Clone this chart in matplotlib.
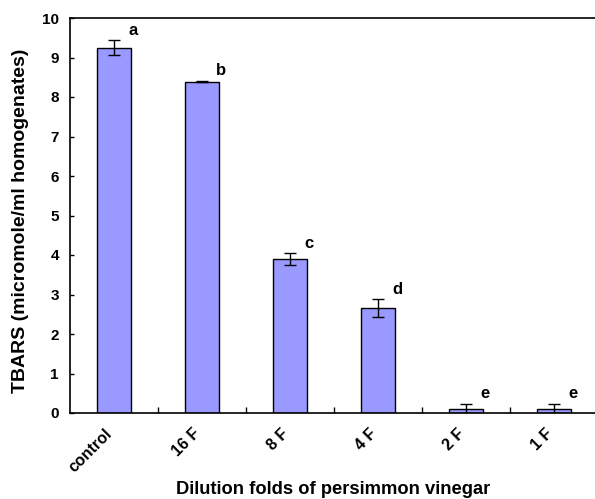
import matplotlib
matplotlib.use("Agg")
import matplotlib.pyplot as plt
import matplotlib.transforms as mtransforms
import numpy as np

categories = ["control", "16 F", "8 F", "4 F", "2 F", "1 F"]
values = [9.25, 8.39, 3.89, 2.66, 0.10, 0.09]
errors = [0.19, 0.02, 0.15, 0.22, 0.14, 0.14]
letters = ["a", "b", "c", "d", "e", "e"]
yticks = [0, 1, 2, 3, 4, 5, 6, 7, 8, 9, 10]

plt.rcParams['font.family'] = ['Liberation Sans', 'DejaVu Sans']
plt.rcParams['font.weight'] = 'bold'

fig = plt.figure(figsize=(5.95, 4.99), dpi=100)
ax = fig.add_axes([70/595, 1-413/499, 528/595, 395/499])

x = np.arange(len(categories))
ax.bar(x, values, width=0.39, color='#9999FF', edgecolor='black', linewidth=1.0,
       yerr=errors, error_kw=dict(ecolor='black', elinewidth=1.0, capsize=4, capthick=1.0))

for xi, v, e, lab in zip(x, values, errors, letters):
    ax.annotate(lab, (xi, v + e), xytext=(14, 4), textcoords='offset points',
                ha='center', va='baseline', fontsize=12, fontweight='bold')

ax.set_xlim(-0.5, len(categories) - 0.5)
ax.set_ylim(0, 10)
ax.set_yticks(yticks)
ax.set_yticklabels([str(t) for t in yticks], fontsize=11, fontweight='bold')
ax.set_xticks(x)
ax.set_xticklabels(categories, rotation=45, ha='right', va='center', rotation_mode='anchor',
                   fontsize=11.5, fontweight='bold')
ax.tick_params(axis='x', length=0, pad=13)
offset = mtransforms.ScaledTranslation(-4/100, 0, fig.dpi_scale_trans)
for lbl in ax.get_xticklabels():
    lbl.set_transform(lbl.get_transform() + offset)
ax.set_xticks(np.arange(len(categories) - 1) + 0.5, minor=True)
ax.tick_params(axis='x', which='minor', direction='in', length=4, width=1)
ax.tick_params(axis='y', direction='in', length=3, width=1, pad=8)

ax.spines['right'].set_visible(False)
for s in ['top', 'bottom', 'left']:
    ax.spines[s].set_linewidth(1.2)

fig.text(333.5/595, 1-490/499, "Dilution folds of persimmon vinegar", fontsize=13.2,
         fontweight='bold', ha='center', va='center')
fig.text(21/595, 1-220.5/499, "TBARS (micromole/ml homogenates)", fontsize=14,
         fontweight='bold', ha='center', va='center', rotation=90)

fig.savefig("out.png", dpi=100)
